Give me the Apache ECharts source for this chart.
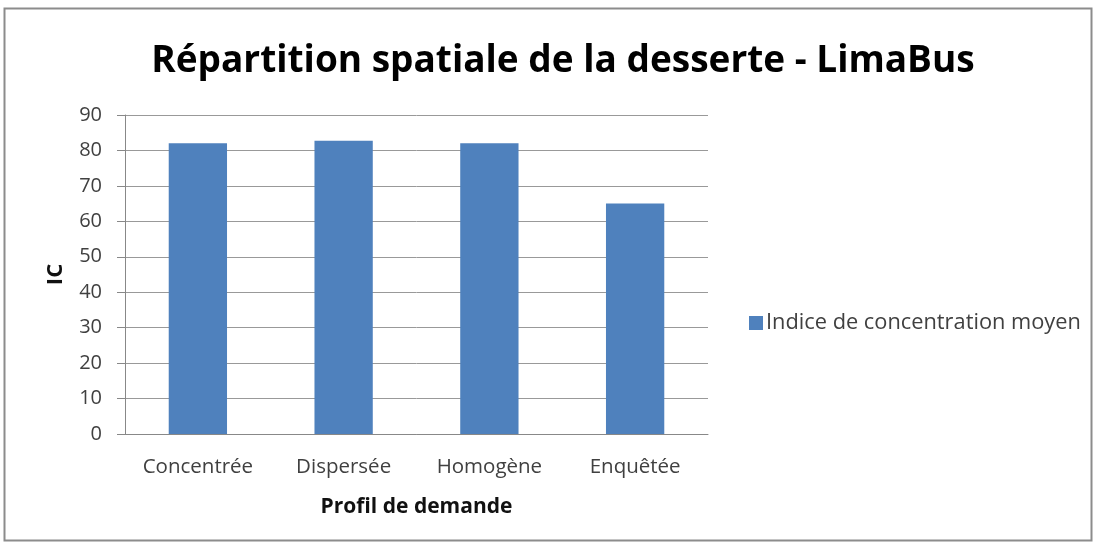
<!DOCTYPE html>
<html>
<head>
<meta charset="utf-8">
<script src="https://cdn.jsdelivr.net/npm/echarts@6/dist/echarts.min.js"></script>
<style>
  html, body { margin: 0; padding: 0; background: #fff; }
  #chart { width: 1099px; height: 546px; }
</style>
</head>
<body>
<div id="chart"></div>
<script>
// Demand profiles and their mean concentration index
const categories = ['Concentrée', 'Dispersée', 'Homogène', 'Enquêtée'];
const icValues = [82, 82.7, 82, 65];
const yTicks = { min: 0, max: 90, interval: 10 };
const seriesName = 'Indice de concentration moyen';

const FONT = 'Open Sans';
const chart = echarts.init(document.getElementById('chart'));
chart.setOption({
  backgroundColor: '#fff',
  animation: false,
  textStyle: { fontFamily: FONT },
  graphic: [{
    type: 'rect',
    shape: { x: 4.5, y: 8.5, width: 1087, height: 532 },
    style: { fill: 'none', stroke: '#8c8c8c', lineWidth: 2 },
    silent: true
  }],
  title: {
    text: 'Répartition spatiale de la desserte - LimaBus',
    left: 558, top: 38, textAlign: 'center',
    textStyle: { fontFamily: FONT, fontSize: 37, fontWeight: 'bold', color: '#000' }
  },
  legend: {
    data: [seriesName],
    left: 744, top: 307,
    itemWidth: 14, itemHeight: 14, itemGap: 4,
    icon: 'rect',
    textStyle: { fontFamily: FONT, fontSize: 21.8, color: '#404040', padding: [0, 0, 0, -2] }
  },
  grid: { left: 125, right: 391, top: 115, bottom: 112, containLabel: false },
  xAxis: {
    type: 'category',
    data: categories,
    name: 'Profil de demande',
    nameLocation: 'middle',
    nameGap: 63,
    nameTextStyle: { fontFamily: FONT, fontSize: 21, fontWeight: 'bold', color: '#111' },
    axisLine: { lineStyle: { color: '#888', width: 1 } },
    axisTick: { show: false },
    axisLabel: { interval: 0, hideOverlap: false, fontFamily: FONT, fontSize: 20.5, color: '#404040', margin: 23 }
  },
  yAxis: {
    type: 'value',
    min: yTicks.min, max: yTicks.max, interval: yTicks.interval,
    name: 'IC',
    nameLocation: 'middle',
    nameGap: 58,
    nameTextStyle: { fontFamily: FONT, fontSize: 22, fontWeight: 'bold', color: '#111' },
    axisLine: { show: true, lineStyle: { color: '#888', width: 1 } },
    axisTick: { show: true, inside: false, length: 8, lineStyle: { color: '#888' } },
    axisLabel: { fontFamily: FONT, fontSize: 20, color: '#404040', margin: 23 },
    splitLine: { lineStyle: { color: '#999', width: 1 } }
  },
  series: [{
    name: seriesName,
    type: 'bar',
    data: icValues,
    barWidth: '40%',
    itemStyle: { color: '#4F81BD' }
  }]
});
</script>
</body>
</html>
